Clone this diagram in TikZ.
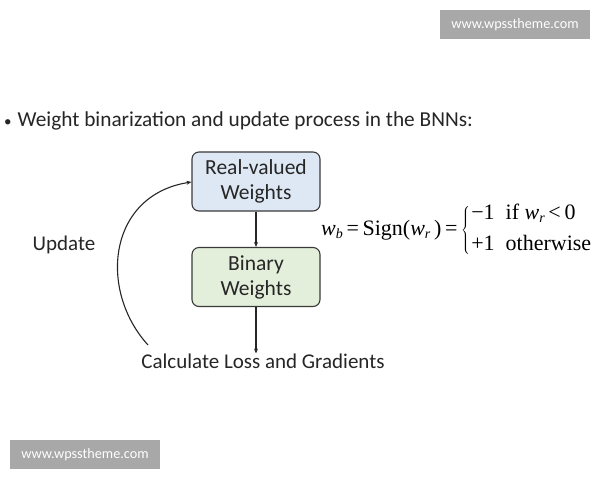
\documentclass[tikz,border=0pt]{standalone}
\usepackage{fontspec}
\setmainfont{Carlito}
\newfontfamily\timesf{Liberation Serif}
\usetikzlibrary{arrows.meta}
\definecolor{bluefill}{HTML}{DEE8F4}
\definecolor{greenfill}{HTML}{E3EFDA}
\definecolor{wmgray}{HTML}{A8A8A8}
\definecolor{boxline}{HTML}{3A3A3A}
\newcommand{\tv}[1]{\textit{#1}}
\newcommand{\sbs}[1]{\raisebox{-0.35ex}{\fontsize{14}{15}\selectfont\textit{#1}}}
\begin{document}
\begin{tikzpicture}[x=1pt,y=-1pt,
  wbox/.style={rectangle,rounded corners=7pt,draw=boxline,line width=1.1pt,minimum width=128pt,minimum height=59pt,align=center,font=\fontsize{21.5}{25}\selectfont,text=black!85},
  wmark/.style={fill=wmgray,text=white,minimum width=150pt,minimum height=29pt,inner sep=0pt,font=\fontsize{14.2}{16}\selectfont},
  lbl/.style={font=\fontsize{21}{24}\selectfont,text=black!85,inner sep=0pt},
  conn/.style={-{Stealth[length=5pt,width=4pt]},line width=1.1pt,black!85}]
\useasboundingbox (0,0) rectangle (600,480);
\fill[white] (0,0) rectangle (600,480);
\node[wmark] (wm1) at (515,24.5) {www.wpsstheme.com};
\node[wmark] (wm2) at (85,454.5) {www.wpsstheme.com};
\node[lbl,anchor=west,font=\fontsize{21.3}{24}\selectfont] (title) at (4,121) {{\fontsize{15}{16}\selectfont\textbullet}\hspace{6pt}Weight binarization and update process in the BNNs:};
\node[wbox,fill=bluefill] (real) at (256,181.5) {Real-valued\\Weights};
\node[wbox,fill=greenfill] (bin) at (256,277) {Binary\\Weights};
\node[lbl] (calc) at (263,361) {Calculate Loss and Gradients};
\node[lbl] (upd) at (64,245) {Update};
\coordinate (c1) at (148,345);
\draw[conn] (real) -- (bin);
\draw[conn] (bin) -- (bin.south |- calc.north);
\draw[conn] (c1) .. controls (98,290) and (108,195) .. (real.west |- 0,182);
\node[inner sep=0pt,font=\timesf\fontsize{22}{24}\selectfont,anchor=west] (eq) at (321,230) {\tv{w}\sbs{b}\,=\,Sign(\tv{w}\sbs{r}\,)\,=\,$\left\{\vphantom{\rule{0pt}{30pt}}\right.$\hspace{0pt}\begin{tabular}{@{}l@{\hspace{11pt}}l@{}}−1 & if \tv{w}\sbs{r}\,<\,0\\[7pt] +1 & otherwise\end{tabular}};
\end{tikzpicture}
\end{document}
